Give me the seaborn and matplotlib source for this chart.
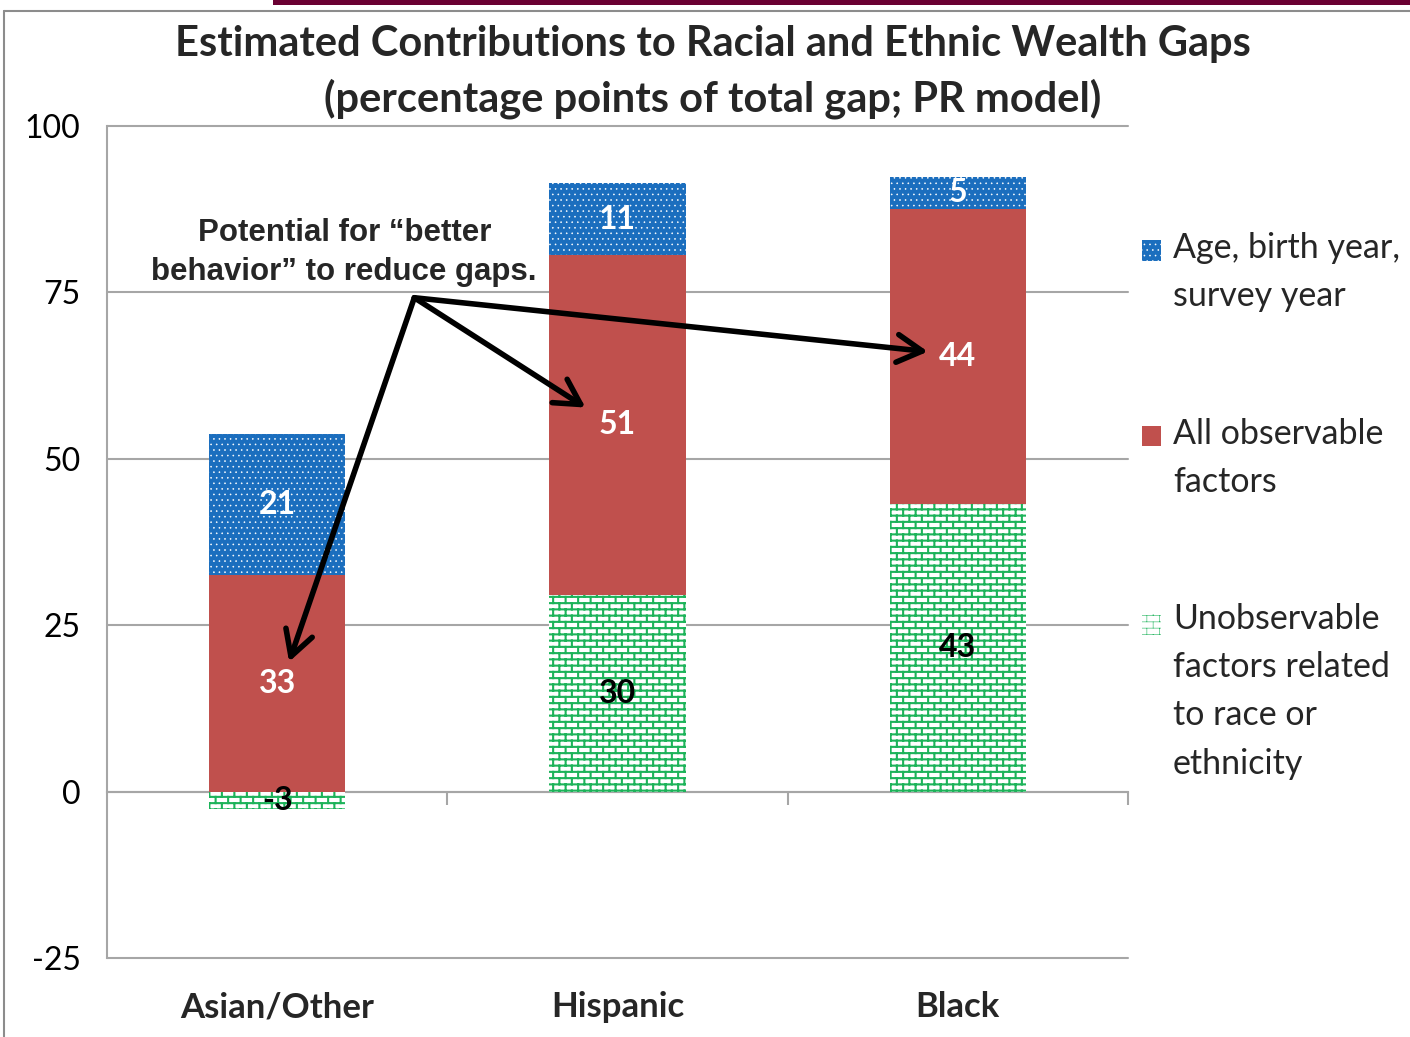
import matplotlib
matplotlib.use("Agg")
import matplotlib.pyplot as plt
import matplotlib.hatch as mhatch
from matplotlib.path import Path
from matplotlib.legend_handler import HandlerPatch
from matplotlib.patches import Rectangle
from matplotlib.lines import Line2D
import numpy as np
import pandas as pd
import seaborn as sns

# ---------------- data ----------------
categories = ["Asian/Other", "Hispanic", "Black"]
unobservable = [-2.6, 29.6, 43.2]
observable = [32.6, 51.0, 44.4]
age_birth_survey = [21.2, 10.8, 4.7]
series_labels = ["Age, birth year,\nsurvey year",
                 "All observable\nfactors",
                 "Unobservable\nfactors related\nto race or\nethnicity"]
y_ticks = [-25, 0, 25, 50, 75, 100]
title_text = ("Estimated Contributions to Racial and Ethnic Wealth Gaps\n"
              "(percentage points of total gap; PR model)")
annotation_text = "Potential for \u201cbetter\nbehavior\u201d to reduce gaps."
annotation_xy = (0.197, 81.0)
arrow_source = (0.403, 74.2)
arrow_targets = [(0.035, 19.5), (0.906, 57.7), (1.912, 66.1)]

BLUE = "#1B6EBE"
RED = "#C0504D"
GREEN = "#1DB35A"
GRID = "#A6A6A6"


# ---------------- brick hatch (mapped onto the 'O' hatch code) ----------------
class BrickHatch(mhatch.HatchPatternBase):
    def __init__(self, hatch, density):
        n = hatch.count('O')
        self.rows = 16 * n
        self.cols = 8 * n
        self.num_vertices = 2 * self.rows + 2 * (self.rows + 1) * self.cols if n else 0

    def set_vertices_and_codes(self, vertices, codes):
        r, c = self.rows, self.cols
        ys = (np.arange(r) + 0.5) / r
        vertices[0:2 * r:2, 0] = 0.0
        vertices[0:2 * r:2, 1] = ys
        vertices[1:2 * r:2, 0] = 1.0
        vertices[1:2 * r:2, 1] = ys
        k = 2 * r
        for i in range(r + 1):
            off = 0.75 / c if i % 2 else 0.25 / c
            for j in range(c):
                x = j / c + off
                vertices[k] = (x, (i - 0.5) / r)
                vertices[k + 1] = (x, (i + 0.5) / r)
                k += 2
        codes[0::2] = Path.MOVETO
        codes[1::2] = Path.LINETO


mhatch._hatch_types = [BrickHatch if t is mhatch.LargeCircles else t
                       for t in mhatch._hatch_types]

# ---------------- style ----------------
sns.set_style("white")
plt.rcParams['font.family'] = ['Lato', 'DejaVu Sans']
plt.rcParams['axes.unicode_minus'] = False

W, H = 1410, 1037
fig = plt.figure(figsize=(W / 100, H / 100), dpi=100)
ax = fig.add_axes([107 / W, 1 - 958 / H, (1128 - 107) / W, (958 - 126) / H])

df = pd.DataFrame({"category": categories,
                   "unobs": unobservable,
                   "obs": observable,
                   "age": age_birth_survey})
obs_bottom = df["unobs"].clip(lower=0)
age_bottom = obs_bottom + df["obs"]

common = dict(x="category", width=0.4, saturation=1, errorbar=None,
              linewidth=0, ax=ax)
plt.rcParams['hatch.linewidth'] = 1.5
sns.barplot(data=df, y="unobs", color="white", edgecolor=GREEN, hatch="O", **common)
sns.barplot(data=df, y="obs", bottom=obs_bottom.values, color=RED, edgecolor=RED, **common)
plt.rcParams['hatch.linewidth'] = 0.4
sns.barplot(data=df, y="age", bottom=age_bottom.values, color=BLUE, edgecolor="white",
            hatch="...", **common)
for p in ax.containers[0].patches:
    if hasattr(p, "set_hatch_linewidth"):
        p.set_hatch_linewidth(1.5)
for p in ax.containers[2].patches:
    if hasattr(p, "set_hatch_linewidth"):
        p.set_hatch_linewidth(0.4)

ax.set_xlabel("")
ax.set_ylabel("")
ax.set_ylim(-25, 100)
ax.set_xlim(-0.5, 2.5)
ax.set_yticks(y_ticks)
ax.yaxis.grid(True, color=GRID, linewidth=1.5)
ax.set_axisbelow(True)
for gl in ax.get_ygridlines():
    gl.set_clip_on(False)
for s in ["top", "right", "bottom"]:
    ax.spines[s].set_visible(False)
ax.spines["left"].set_color(GRID)
ax.spines["left"].set_linewidth(1.5)
ax.tick_params(axis="y", length=7, width=1.5, color=GRID, pad=12,
               labelsize=23, labelcolor="black")
ax.tick_params(axis="x", length=0, pad=24, labelsize=25)
for lab in ax.get_xticklabels():
    lab.set_fontweight("bold")

# zero line with category separator ticks
sec = ax.secondary_xaxis(0.2)
sec.set_xticks([0.5, 1.5, 2.5])
sec.tick_params(length=9, width=1.5, color=GRID, direction="out", labelbottom=False)
sec.spines["bottom"].set_color(GRID)
sec.spines["bottom"].set_linewidth(1.5)

# data labels
label_colors = ["black", "white", "white"]
for cont, col in zip(ax.containers, label_colors):
    ax.bar_label(cont, fmt="{:.0f}", label_type="center", color=col,
                 fontsize=23, fontweight="bold")

# annotation
ax.text(*annotation_xy, annotation_text, ha="center", va="center",
        fontsize=22.5, fontweight="bold", linespacing=1.37,
        family=["Liberation Sans", "DejaVu Sans"])
for tgt in arrow_targets:
    ax.annotate("", xy=tgt, xytext=arrow_source,
                arrowprops=dict(arrowstyle="->,head_length=0.9,head_width=0.5",
                                lw=4, color="black", shrinkA=0, shrinkB=0,
                                mutation_scale=20))

# legend
FS = 24.5
LS = 1.62
handles = [ax.containers[2].patches[0], ax.containers[1].patches[0],
           ax.containers[0].patches[0]]


def make_handler(nlines):
    shift = (nlines - 1) / 2 * LS * FS * 0.82

    def patch_func(legend, orig_handle, xdescent, ydescent, width, height, fontsize):
        return Rectangle((-xdescent, -ydescent + shift), width, height)
    return HandlerPatch(patch_func=patch_func)


hmap = {h: make_handler(lbl.count("\n") + 1) for h, lbl in zip(handles, series_labels)}
leg = ax.legend(handles, series_labels, handler_map=hmap, loc="upper left",
                bbox_to_anchor=(1142 / W, 1 - 232 / H), bbox_transform=fig.transFigure,
                frameon=False, prop={"size": FS}, labelspacing=3.1,
                handlelength=0.56, handleheight=0.56, handletextpad=0.35,
                borderpad=0, borderaxespad=0)
for t in leg.get_texts():
    t.set_linespacing(LS)

# title
fig.text(713 / W, 1 - 72 / H, title_text, ha="center", va="center",
         fontsize=30, fontweight="bold", linespacing=1.48)

# frame decorations
fig.add_artist(Line2D([4 / W, 4 / W], [0, 1 - 11 / H], transform=fig.transFigure,
                      color="#8C8C8C", lw=1.5))
fig.add_artist(Line2D([4 / W, 1], [1 - 11 / H, 1 - 11 / H], transform=fig.transFigure,
                      color="#8C8C8C", lw=1.5))
fig.add_artist(Rectangle((273 / W, 1 - 5 / H), 1 - 273 / W, 5 / H,
                         transform=fig.transFigure, color="#6A0032", lw=0))

fig.savefig("out.png", dpi=100)
